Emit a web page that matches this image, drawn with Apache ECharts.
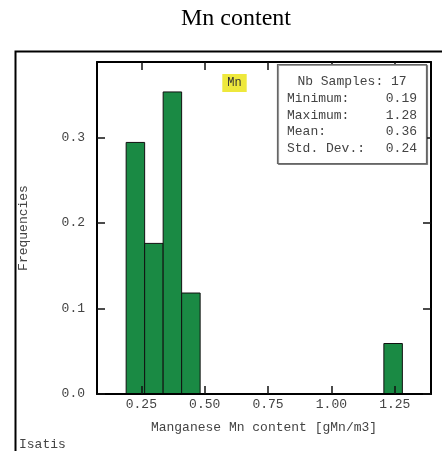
<!DOCTYPE html>
<html>
<head>
<meta charset="utf-8">
<script src="https://cdn.jsdelivr.net/npm/echarts@6/dist/echarts.min.js"></script>
<style>
  html, body { margin: 0; padding: 0; background: #fff; }
  #chart { width: 442px; height: 451px; }
</style>
</head>
<body>
<div id="chart"></div>
<script>
// histogram bins (lower / upper edge) and frequencies
const binLo = [0.19, 0.263, 0.336, 0.409, 1.207]
const binHi = [0.263, 0.336, 0.409, 0.482, 1.28]
const freq = [0.294, 0.176, 0.353, 0.118, 0.059]

const xTicks = [0.25, 0.5, 0.75, 1.0, 1.25]
const yTicks = [0, 0.1, 0.2, 0.3]

const statLabels = ['Minimum:', 'Maximum:', 'Mean:', 'Std. Dev.:']
const statValues = ['0.19', '1.28', '0.36', '0.24']
const nbSamples = 17

const mono = '"Liberation Mono", "DejaVu Sans Mono", monospace'
const txt = '#444'

const chart = echarts.init(document.getElementById('chart'))

const barData = binLo.map((lo, i) => [lo, binHi[i], freq[i]])

const graphics = [
  // outer frame
  {
    type: 'rect', z: 0, silent: true,
    shape: { x: 15.5, y: 51.5, width: 500, height: 500 },
    style: { fill: null, stroke: '#000', lineWidth: 2 }
  },
  {
    type: 'text', z: 20,
    x: 24, y: 228, rotation: Math.PI / 2,
    style: { x: 0, y: 0, text: 'Frequencies', font: '13px ' + mono, fill: txt, align: 'center', verticalAlign: 'middle' }
  },
  {
    type: 'text', z: 20,
    style: { x: 19, y: 445, text: 'Isatis', font: '13px ' + mono, fill: txt, verticalAlign: 'middle' }
  },
  {
    type: 'text', z: 20,
    style: {
      x: 234.5, y: 83, text: 'Mn', font: '12px ' + mono, fill: '#333',
      align: 'center', verticalAlign: 'middle',
      backgroundColor: '#eee83c', padding: [3, 5]
    }
  },
  // stats box
  {
    type: 'rect', z: 20,
    shape: { x: 277.5, y: 64.5, width: 149, height: 99 },
    style: { fill: '#fff', stroke: '#666', lineWidth: 1.2, shadowColor: 'rgba(0,0,0,0.4)', shadowOffsetX: 1, shadowOffsetY: 1 }
  },
  {
    type: 'text', z: 21,
    style: { x: 352, y: 82, text: 'Nb Samples: ' + nbSamples, font: '13px ' + mono, fill: txt, align: 'center', verticalAlign: 'middle' }
  }
]

statLabels.forEach((lab, i) => {
  const y = 98.5 + i * 16.6
  graphics.push({
    type: 'text', z: 21,
    style: { x: 287, y, text: lab, font: '13px ' + mono, fill: txt, verticalAlign: 'middle' }
  })
  graphics.push({
    type: 'text', z: 21,
    style: { x: 417, y, text: statValues[i], font: '13px ' + mono, fill: txt, align: 'right', verticalAlign: 'middle' }
  })
})

const axisCommon = {
  type: 'value',
  z: 10,
  splitLine: { show: false },
  axisLine: { show: true, onZero: false, lineStyle: { color: '#000', width: 2 } },
  axisTick: { show: true, inside: true, length: 8, lineStyle: { color: '#111', width: 1.5 } }
}

chart.setOption({
  animation: false,
  title: {
    text: 'Mn content',
    left: 176,
    top: 2,
    textStyle: { fontFamily: '"Liberation Serif", serif', fontSize: 24, fontWeight: 'normal', color: '#000' }
  },
  grid: { left: 97, top: 62, right: 11, bottom: 57 },
  xAxis: [
    {
      ...axisCommon,
      position: 'bottom',
      min: 0.075,
      max: 1.393,
      name: 'Manganese Mn content [gMn/m3]',
      nameLocation: 'middle',
      nameGap: 27,
      nameTextStyle: { fontFamily: mono, fontSize: 13, color: txt },
      axisTick: { ...axisCommon.axisTick, customValues: xTicks },
      axisLabel: {
        customValues: xTicks,
        margin: 4,
        fontFamily: mono,
        fontSize: 13,
        color: txt,
        formatter: v => v.toFixed(2)
      }
    },
    {
      ...axisCommon,
      position: 'top',
      min: 0.075,
      max: 1.393,
      axisTick: { ...axisCommon.axisTick, customValues: xTicks },
      axisLabel: { show: false }
    }
  ],
  yAxis: [
    {
      ...axisCommon,
      position: 'left',
      min: 0,
      max: 0.388,
      axisTick: { ...axisCommon.axisTick, customValues: yTicks },
      axisLabel: {
        customValues: yTicks,
        margin: 12,
        fontFamily: mono,
        fontSize: 13,
        color: txt,
        formatter: v => v.toFixed(1)
      }
    },
    {
      ...axisCommon,
      position: 'right',
      min: 0,
      max: 0.388,
      axisTick: { ...axisCommon.axisTick, customValues: yTicks },
      axisLabel: { show: false }
    }
  ],
  series: [{
    type: 'custom',
    z: 2,
    data: barData,
    encode: { x: [0, 1], y: 2 },
    renderItem(params, api) {
      const p0 = api.coord([api.value(0), api.value(2)])
      const p1 = api.coord([api.value(1), 0])
      return {
        type: 'rect',
        shape: { x: p0[0], y: p0[1], width: p1[0] - p0[0], height: p1[1] - p0[1] },
        style: { fill: '#1a8a44', stroke: '#111', lineWidth: 1 }
      }
    }
  }],
  graphic: graphics
})
</script>
</body>
</html>
